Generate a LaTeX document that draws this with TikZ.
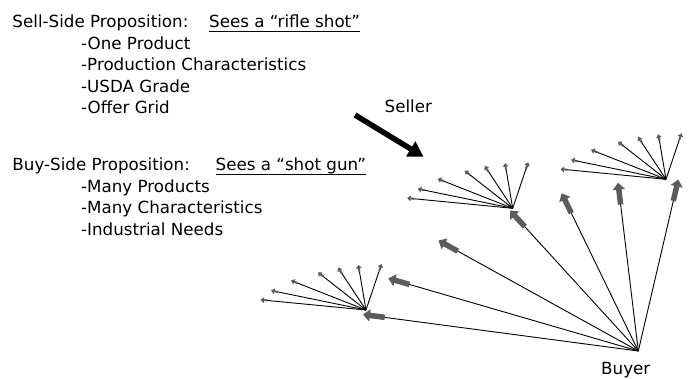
\documentclass[tikz,border=0pt]{standalone}
\usepackage{fontspec}
\setmainfont{DejaVu Sans}
\usetikzlibrary{arrows.meta,calc}
\definecolor{arrowgray}{RGB}{92,92,92}
\begin{document}
\begin{tikzpicture}[x=1pt,y=-1pt,
  txt/.style={anchor=base west,inner sep=0pt,font=\fontsize{16.7}{20}\selectfont},
  thinline/.style={line width=0.9pt,black},
  bigarrow/.style={arrowgray,line width=5.5pt,-{Triangle[width=12pt,length=7pt]}},
  smallarrow/.style={arrowgray,line width=2pt,-{Triangle[width=5.5pt,length=3.5pt]}},
  sellerarrow/.style={black,line width=5.5pt,-{Triangle[width=17pt,length=15pt]}},
  uline/.style={line width=0.9pt,black}]
\useasboundingbox (0,0) rectangle (691,379);

% ---- texts ----
\node[txt] (sellhead) at (12.3,28) {Sell-Side Proposition:};
\node[txt] (sellsees) at (209,28) {Sees a “rifle shot”};
\draw[uline] ($(sellsees.base west)+(0,3)$) -- ($(sellsees.base east)+(0,3)$);
\node[txt] (s1) at (81,49.5) {-One Product};
\node[txt] (s2) at (81,71) {-Production Characteristics};
\node[txt] (s3) at (81,92.5) {-USDA Grade};
\node[txt] (s4) at (81,114) {-Offer Grid};

\node[txt] (buyhead) at (12.3,171) {Buy-Side Proposition:};
\node[txt] (buysees) at (215.5,171) {Sees a “shot gun”};
\draw[uline] ($(buysees.base west)+(0,3)$) -- ($(buysees.base east)+(0,3)$);
\node[txt] (b1) at (81,192.5) {-Many Products};
\node[txt] (b2) at (81,214) {-Many Characteristics};
\node[txt] (b3) at (81,235.5) {-Industrial Needs};

\node[txt] (seller) at (384.5,112.5) {Seller};
\node[txt] (buyer) at (601,374.5) {Buyer};

% ---- seller arrow ----
\coordinate (sa) at (355,115);
\coordinate (sb) at (423.5,156.7);
\draw[sellerarrow] (sa) -- (sb);

% ---- buyer rays ----
\coordinate (bp) at (638.3,351);
\coordinate (r1) at (363,314.5);
\coordinate (r2) at (388.3,278.3);
\coordinate (r3) at (438.5,240.5);
\coordinate (r4) at (510,210.5);
\coordinate (r5) at (561.7,193.3);
\coordinate (r6) at (618,182.7);
\coordinate (r7) at (678.3,179.5);

% ---- fans ----
\coordinate (fA) at (366,310);
\coordinate (fB) at (512.7,208.3);
\coordinate (fC) at (666,179.3);
\foreach \f in {fA,fB,fC}{
  \foreach \dx/\dy [count=\k] in {-105.5/-10.2,-95/-19.5,-75/-29.5,-48/-37.6,-28/-42.4,-7.7/-45.1,15.5/-46}{
    \coordinate (\f t\k) at ($(\f)+(\dx,\dy)$);
    \draw[thinline] (\f) -- ($(\f t\k)!5pt!(\f)$);
    \draw[smallarrow] ($(\f t\k)!7pt!(\f)$) -- (\f t\k);
  }
}

\foreach \r in {r1,r2,r3,r4,r5,r6,r7}{
  \draw[thinline] (bp) -- ($(\r)!20pt!(bp)$);
  \draw[bigarrow] ($(\r)!22pt!(bp)$) -- (\r);
}
\end{tikzpicture}
\end{document}
